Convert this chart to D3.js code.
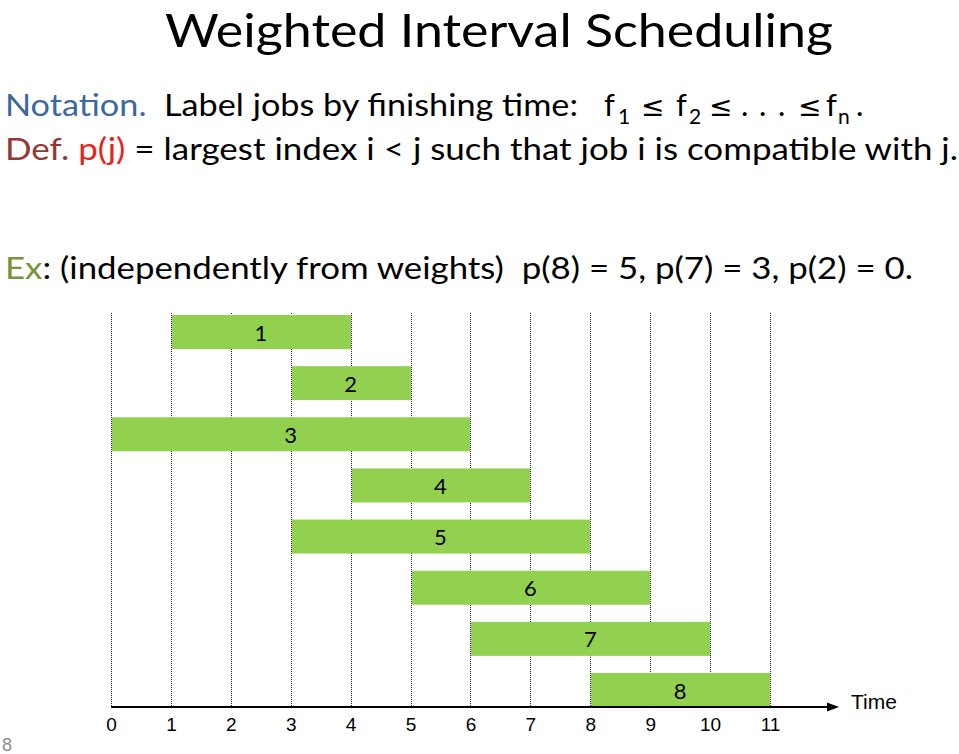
<!DOCTYPE html>
<html>
<head>
<meta charset="utf-8">
<script src="https://cdn.jsdelivr.net/npm/d3@7"></script>
<style>
  html, body { margin: 0; padding: 0; background: #fff; }
  svg text { white-space: pre; }
</style>
</head>
<body>
<svg id="chart" width="959" height="754"></svg>
<script>
// ---- data ----
const jobs = ["1", "2", "3", "4", "5", "6", "7", "8"];
const jobStart = [1, 3, 0, 4, 3, 5, 6, 8];
const jobFinish = [4, 5, 6, 7, 8, 9, 10, 11];
const timeTicks = [0, 1, 2, 3, 4, 5, 6, 7, 8, 9, 10, 11];
const titleText = "Weighted Interval Scheduling";
const axisLabel = "Time";
const pageNumber = "8";

const svg = d3.select("#chart");
const bodyFont = "Lato, 'Open Sans', sans-serif";
const chartFont = "'Liberation Sans', Arial, sans-serif";

// ---- title & text ----
svg.append("text")
  .attr("x", 165).attr("y", 46.5)
  .attr("font-family", bodyFont).attr("font-size", 47)
  .attr("textLength", 668).attr("lengthAdjust", "spacingAndGlyphs")
  .attr("fill", "#000")
  .text(titleText);

// Notation line
const t1 = svg.append("text")
  .attr("x", 5).attr("y", 116)
  .attr("font-family", bodyFont).attr("font-size", 31)
  .attr("textLength", 573).attr("lengthAdjust", "spacingAndGlyphs");
t1.append("tspan").attr("fill", "#3c68a0").text("Notation.");
t1.append("tspan").attr("fill", "#000").text("  Label jobs by finishing time:");

// math part: f1 <= f2 <= ... <= fn .
const mathParts = [
  {x: 604, t: "f", kind: "n"},
  {x: 618, t: "1", kind: "s"},
  {x: 641, t: "\u2264", kind: "o"},
  {x: 676, t: "f", kind: "n"},
  {x: 689, t: "2", kind: "s"},
  {x: 709, t: "\u2264", kind: "o"},
  {x: 741, t: ".", kind: "n"},
  {x: 759, t: ".", kind: "n"},
  {x: 778, t: ".", kind: "n"},
  {x: 798, t: "\u2264", kind: "o"},
  {x: 826, t: "f", kind: "n"},
  {x: 838, t: "n", kind: "s"},
  {x: 856, t: ".", kind: "n"}
];
svg.append("g").selectAll("text").data(mathParts).join("text")
  .attr("x", d => d.x)
  .attr("y", d => d.kind === "s" ? 124 : 116)
  .attr("font-family", d => d.kind === "o" ? "'DejaVu Sans', sans-serif" : bodyFont)
  .attr("font-size", d => d.kind === "s" ? 21 : (d.kind === "o" ? 28 : 31))
  .attr("fill", "#000")
  .text(d => d.t);

// Def line
const t2 = svg.append("text")
  .attr("x", 5).attr("y", 160)
  .attr("font-family", bodyFont).attr("font-size", 31)
  .attr("textLength", 953).attr("lengthAdjust", "spacingAndGlyphs");
t2.append("tspan").attr("fill", "#953735").text("Def.");
t2.append("tspan").attr("fill", "#000").text(" ");
t2.append("tspan").attr("fill", "#e3241d").text("p(j)");
t2.append("tspan").attr("fill", "#000").text(" = largest index i < j such that job i is compatible with j.");

// Ex line
const t3 = svg.append("text")
  .attr("x", 5).attr("y", 279)
  .attr("font-family", bodyFont).attr("font-size", 31)
  .attr("textLength", 908).attr("lengthAdjust", "spacingAndGlyphs");
t3.append("tspan").attr("fill", "#77933c").text("Ex");
t3.append("tspan").attr("fill", "#000").text(": (independently from weights)  p(8) = 5, p(7) = 3, p(2) = 0.");

// ---- chart ----
const x = d3.scaleLinear().domain([0, 11]).range([111, 770]);
const y = d3.scaleLinear().domain([0, jobs.length - 1]).range([315, 673]);
const barH = 34;
const axisY = 707;
const gridTop = 313;

// gridlines
svg.append("g").selectAll("line").data(timeTicks).join("line")
  .attr("x1", d => Math.round(x(d)) + 0.5).attr("x2", d => Math.round(x(d)) + 0.5)
  .attr("y1", gridTop).attr("y2", axisY)
  .attr("stroke", "#222").attr("stroke-width", 1)
  .attr("stroke-dasharray", "1,1");

// bars
const barData = jobs.map((j, i) => ({label: j, s: jobStart[i], f: jobFinish[i], row: i}));
svg.append("g").selectAll("rect").data(barData).join("rect")
  .attr("x", d => Math.round(x(d.s)) + 1)
  .attr("y", d => y(d.row))
  .attr("width", d => Math.round(x(d.f)) - Math.round(x(d.s)) - 1)
  .attr("height", barH)
  .attr("fill", "#92d050");

svg.append("g").selectAll("text").data(barData).join("text")
  .attr("x", d => x((d.s + d.f) / 2))
  .attr("y", d => y(d.row) + barH / 2 + 8.5)
  .attr("text-anchor", "middle")
  .attr("font-family", bodyFont).attr("font-size", 22)
  .attr("fill", "#000")
  .text(d => d.label);

// axis
const axis = d3.axisBottom(x).tickValues(timeTicks).tickSize(0).tickPadding(11).tickFormat(d3.format("d"));
const ag = svg.append("g").attr("transform", `translate(0,${axisY})`).call(axis);
ag.select(".domain").remove();
ag.attr("font-size", 19).attr("font-family", chartFont);
ag.selectAll("text").attr("font-family", chartFont).attr("font-size", 19).attr("fill", "#000");

svg.append("line")
  .attr("x1", x(0)).attr("x2", 830)
  .attr("y1", axisY).attr("y2", axisY)
  .attr("stroke", "#000").attr("stroke-width", 2);
svg.append("path")
  .attr("d", `M827,${axisY - 4.5} L839,${axisY} L827,${axisY + 4.5} Z`)
  .attr("fill", "#000");

svg.append("text")
  .attr("x", 851).attr("y", 709)
  .attr("font-family", chartFont).attr("font-size", 21)
  .attr("fill", "#000")
  .text(axisLabel);

svg.append("text")
  .attr("x", 2).attr("y", 751)
  .attr("font-family", chartFont).attr("font-size", 18)
  .attr("fill", "#8c8c8c")
  .text(pageNumber);
</script>
</body>
</html>
